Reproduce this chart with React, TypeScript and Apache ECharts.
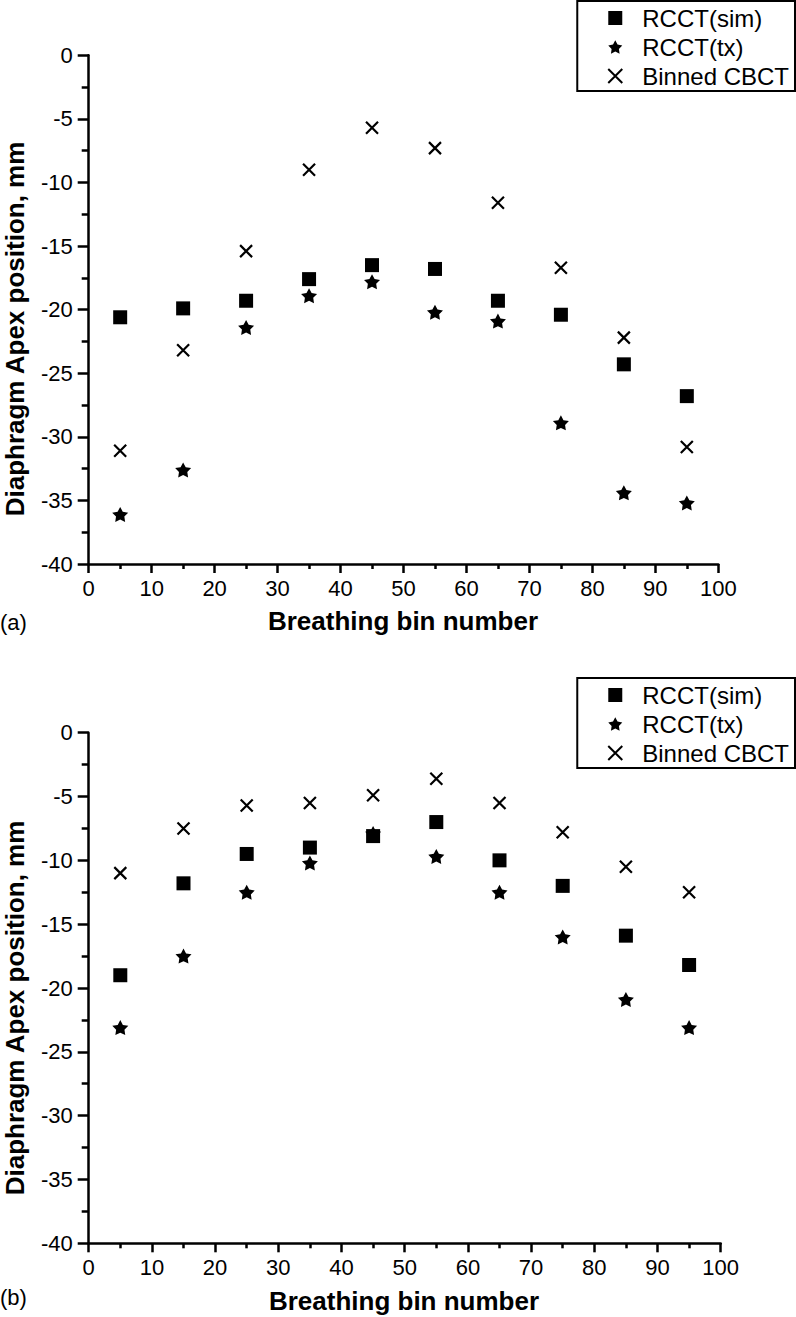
import React, { useEffect, useRef } from "react";
import * as echarts from "echarts";

const bins = [5, 15, 25, 35, 45, 55, 65, 75, 85, 95];
const xTicks = [0, 10, 20, 30, 40, 50, 60, 70, 80, 90, 100];
const yTicks = [-40, -35, -30, -25, -20, -15, -10, -5, 0];

const seriesNames = ["RCCT(sim)", "RCCT(tx)", "Binned CBCT"];

// panel (a)
const aSim = [-20.6, -19.9, -19.3, -17.6, -16.5, -16.8, -19.3, -20.4, -24.3, -26.8];
const aTx = [-36.1, -32.6, -21.4, -18.9, -17.8, -20.2, -20.9, -28.9, -34.4, -35.2];
const aCbct = [-31.1, -23.2, -15.4, -9.0, -5.7, -7.3, -11.6, -16.7, -22.2, -30.8];

// panel (b)
const bSim = [-19.0, -11.8, -9.5, -9.0, -8.1, -7.0, -10.0, -12.0, -15.9, -18.2];
const bTx = [-23.1, -17.5, -12.5, -10.2, -7.9, -9.7, -12.5, -16.0, -20.9, -23.1];
const bCbct = [-11.0, -7.5, -5.7, -5.5, -4.9, -3.6, -5.5, -7.8, -10.5, -12.5];

const STAR =
  "path://M50,0 L65.28,28.97 L97.55,34.55 L74.73,58.03 L79.39,90.45 L50,76 L20.61,90.45 L25.27,58.03 L2.45,34.55 L34.72,28.97 Z";
const CROSS = "path://M0,0 L10,10 M10,0 L0,10";
const FONT = "Liberation Sans, Arial, Helvetica, sans-serif";

export default function App() {
  const ref = useRef<HTMLDivElement>(null);
  useEffect(() => {
    if (!ref.current) return;
    const chart = echarts.init(ref.current, null, { renderer: "svg" });

    const pts = (ys: number[]) => bins.map((b, i) => [b, ys[i]]);

    const xAxisBase = (gridIndex: number) => ({
      gridIndex,
      type: "value",
      min: xTicks[0],
      max: xTicks[xTicks.length - 1],
      interval: 10,
      axisLine: { show: true, onZero: false, lineStyle: { color: "#000", width: 2.5 } },
      axisTick: { show: true, length: 9, lineStyle: { color: "#000", width: 2.5 } },
      minorTick: { show: true, splitNumber: 2, length: 5, lineStyle: { color: "#000", width: 2.5 } },
      splitLine: { show: false },
      axisLabel: { color: "#000", fontSize: 22, fontFamily: FONT, margin: 13 },
    });
    const yAxisBase = (gridIndex: number) => ({
      gridIndex,
      type: "value",
      min: yTicks[0],
      max: yTicks[yTicks.length - 1],
      interval: 5,
      axisLine: { show: true, onZero: false, lineStyle: { color: "#000", width: 2.5 } },
      axisTick: { show: true, length: 11, lineStyle: { color: "#000", width: 2.5 } },
      minorTick: { show: true, splitNumber: 2, length: 7, lineStyle: { color: "#000", width: 2.5 } },
      splitLine: { show: false },
      axisLabel: { color: "#000", fontSize: 22, fontFamily: FONT, margin: 16 },
    });

    const mk = (name: string, idx: number, data: number[][]) => {
      const base: any = {
        name,
        type: "scatter",
        xAxisIndex: idx,
        yAxisIndex: idx,
        data,
      };
      if (name === seriesNames[0]) {
        base.symbol = "rect";
        base.symbolSize = 14;
        base.itemStyle = { color: "#000", opacity: 1 };
      } else if (name === seriesNames[1]) {
        base.symbol = STAR;
        base.symbolSize = [16, 15];
        base.itemStyle = { color: "#000", opacity: 1 };
      } else {
        base.symbol = CROSS;
        base.symbolSize = 12;
        base.itemStyle = { color: "rgba(0,0,0,0)", borderColor: "#000", borderWidth: 2.2, opacity: 1 };
      }
      return base;
    };

    const legend = (top: number) => ({
      orient: "vertical",
      right: 1,
      top,
      data: seriesNames,
      backgroundColor: "#fff",
      borderColor: "#000",
      borderWidth: 2,
      borderRadius: 0,
      padding: [5, 6, 3, 30],
      itemGap: 5,
      itemWidth: 14,
      itemHeight: 14,
      textStyle: { color: "#000", fontSize: 24, fontFamily: FONT, padding: [0, 0, 0, 15] },
      selectedMode: false,
    });

    const option: any = {
      animation: false,
      backgroundColor: "#fff",
      grid: [
        { left: 88.7, right: 77.7, top: 55.3, height: 508.7 },
        { left: 88.7, right: 75.3, top: 732.7, height: 510.6 },
      ],
      xAxis: [xAxisBase(0), xAxisBase(1)],
      yAxis: [yAxisBase(0), yAxisBase(1)],
      legend: [legend(1), legend(678)],
      series: [
        mk(seriesNames[0], 0, pts(aSim)),
        mk(seriesNames[1], 0, pts(aTx)),
        mk(seriesNames[2], 0, pts(aCbct)),
        mk(seriesNames[0], 1, pts(bSim)),
        mk(seriesNames[1], 1, pts(bTx)),
        mk(seriesNames[2], 1, pts(bCbct)),
      ],
      graphic: [
        {
          type: "text", x: 403, y: 621,
          style: { text: "Breathing bin number", font: `bold 26px ${FONT}`, fill: "#000", textAlign: "center", textVerticalAlign: "middle" },
        },
        {
          type: "text", x: 404, y: 1301,
          style: { text: "Breathing bin number", font: `bold 26px ${FONT}`, fill: "#000", textAlign: "center", textVerticalAlign: "middle" },
        },
        {
          type: "text", x: 15, y: 329, rotation: Math.PI / 2,
          style: { text: "Diaphragm Apex position, mm", font: `bold 26px ${FONT}`, fill: "#000", textAlign: "center", textVerticalAlign: "middle" },
        },
        {
          type: "text", x: 15, y: 1008, rotation: Math.PI / 2,
          style: { text: "Diaphragm Apex position, mm", font: `bold 26px ${FONT}`, fill: "#000", textAlign: "center", textVerticalAlign: "middle" },
        },
        {
          type: "text", x: 0, y: 622,
          style: { text: "(a)", font: `22px ${FONT}`, fill: "#000", textAlign: "left", textVerticalAlign: "middle" },
        },
        {
          type: "text", x: 0, y: 1297,
          style: { text: "(b)", font: `22px ${FONT}`, fill: "#000", textAlign: "left", textVerticalAlign: "middle" },
        },
      ],
    };
    chart.setOption(option);
    return () => chart.dispose();
  }, []);
  return (
    <div
      ref={ref}
      style={{ position: "absolute", left: 0, top: 0, width: 796, height: 1317, background: "#fff" }}
    />
  );
}
